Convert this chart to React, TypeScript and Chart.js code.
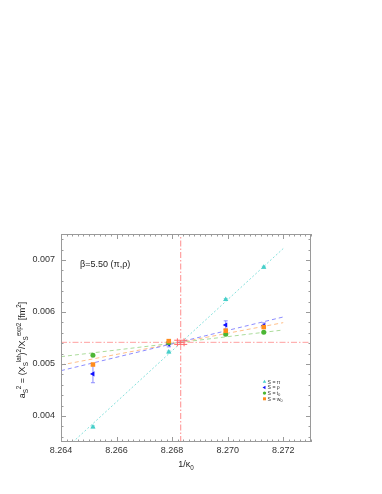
import React, { useEffect, useRef } from 'react';
import { Chart, registerables } from 'chart.js';

Chart.register(...registerables);

// ---- data ----
const kappaInv = [8.26515, 8.26788, 8.26993, 8.2713];
const sPi = [0.00379, 0.00523, 0.00624, 0.00686];
const sPiErr = [0.00002, 0.00002, 0.00002, 0.00002];
const sRho = [0.00481, 0.00538, 0.00575, 0.00574];
const sRhoErr = [0.00017, 0.00005, 0.00008, 0.00005];
const sT0 = [0.00517, 0.00541, 0.00557, 0.00561];
const sT0Err = [0.00002, 0.00002, 0.00002, 0.00002];
const sW0 = [0.00499, 0.00544, 0.00564, 0.00571];
const sW0Err = [0.00002, 0.00002, 0.00003, 0.00002];

const fitX = [8.264, 8.272];
const fitPi = [0.003289, 0.00722];
const fitRho = [0.004872, 0.005904];
const fitW0 = [0.004981, 0.005795];
const fitT0 = [0.005141, 0.005654];

const refX = [8.26831];
const refXErr = [0.00012];
const refY = [0.005417];
const refYErr = [0.00004];

const xRange = [8.264, 8.273];
const yRange = [0.0035, 0.0075];
const xTicks = [8.264, 8.266, 8.268, 8.27, 8.272];
const yTicks = [0.004, 0.005, 0.006, 0.007];

const legendLabels = [
  { main: 'S = π', sub: '' },
  { main: 'S = ρ', sub: '' },
  { main: 'S = t', sub: '0' },
  { main: 'S = w', sub: '0' },
];

const FONT = '"Liberation Sans", Arial, Helvetica, sans-serif';
const C_PI = '#46cfca';
const C_RHO = '#1010ff';
const C_T0 = '#4cb634';
const C_W0 = '#ff8c1c';

const pts = (xs: number[], ys: number[]) => xs.map((x, i) => ({ x, y: ys[i] }));

type Seg = { t: string; k: 'n' | 'b' | 'p' };

function drawRich(ctx: CanvasRenderingContext2D, segs: Seg[], size: number, align: 'left' | 'center') {
  const small = size * 0.7;
  const fontOf = (k: string) => `${k === 'n' ? size : small}px ${FONT}`;
  let total = 0;
  for (const s of segs) {
    ctx.font = fontOf(s.k);
    total += ctx.measureText(s.t).width;
  }
  let x = align === 'center' ? -total / 2 : 0;
  ctx.textBaseline = 'alphabetic';
  ctx.textAlign = 'left';
  for (const s of segs) {
    ctx.font = fontOf(s.k);
    const dy = s.k === 'b' ? size * 0.28 : s.k === 'p' ? -size * 0.45 : 0;
    ctx.fillText(s.t, x, dy);
    x += ctx.measureText(s.t).width;
  }
}

function marker(ctx: CanvasRenderingContext2D, kind: string, x: number, y: number, r: number, color: string) {
  ctx.save();
  ctx.fillStyle = color;
  ctx.beginPath();
  if (kind === 'tri') {
    ctx.moveTo(x, y - r);
    ctx.lineTo(x + r * 0.866, y + r * 0.5);
    ctx.lineTo(x - r * 0.866, y + r * 0.5);
  } else if (kind === 'left') {
    ctx.moveTo(x - r, y);
    ctx.lineTo(x + r * 0.5, y - r * 0.866);
    ctx.lineTo(x + r * 0.5, y + r * 0.866);
  } else if (kind === 'circ') {
    ctx.arc(x, y, r * 0.85, 0, Math.PI * 2);
  } else {
    ctx.rect(x - r * 0.75, y - r * 0.75, r * 1.5, r * 1.5);
  }
  ctx.closePath();
  ctx.fill();
  ctx.restore();
}

const decorPlugin = {
  id: 'decor',
  beforeDatasetsDraw(chart: any) {
    const { ctx } = chart;
    const ys = chart.scales.y;
    ctx.save();
    chart.data.datasets.forEach((ds: any, i: number) => {
      if (!ds.errors) return;
      const meta = chart.getDatasetMeta(i);
      ctx.strokeStyle = ds.errColor;
      ctx.lineWidth = 1;
      meta.data.forEach((el: any, j: number) => {
        const e = ds.errors[j];
        const v = ds.data[j].y;
        const y1 = ys.getPixelForValue(v - e);
        const y2 = ys.getPixelForValue(v + e);
        ctx.beginPath();
        ctx.moveTo(el.x, y1);
        ctx.lineTo(el.x, y2);
        ctx.moveTo(el.x - 2, y1);
        ctx.lineTo(el.x + 2, y1);
        ctx.moveTo(el.x - 2, y2);
        ctx.lineTo(el.x + 2, y2);
        ctx.stroke();
      });
    });
    ctx.restore();
  },
  afterDatasetsDraw(chart: any) {
    const { ctx } = chart;
    const xs = chart.scales.x;
    const ys = chart.scales.y;
    // target point with x and y errors
    ctx.save();
    ctx.strokeStyle = '#ff6a6a';
    ctx.lineWidth = 1;
    refX.forEach((vx, i) => {
      const cx = xs.getPixelForValue(vx);
      const cy = ys.getPixelForValue(refY[i]);
      const xl = xs.getPixelForValue(vx - refXErr[i]);
      const xr = xs.getPixelForValue(vx + refXErr[i]);
      const yt = ys.getPixelForValue(refY[i] + refYErr[i]);
      const yb = ys.getPixelForValue(refY[i] - refYErr[i]);
      ctx.beginPath();
      ctx.moveTo(xl, cy); ctx.lineTo(xr, cy);
      ctx.moveTo(cx, yt); ctx.lineTo(cx, yb);
      ctx.moveTo(xl, cy - 4); ctx.lineTo(xl, cy + 4);
      ctx.moveTo(xr, cy - 4); ctx.lineTo(xr, cy + 4);
      ctx.moveTo(cx - 6.5, yt); ctx.lineTo(cx + 6.5, yt);
      ctx.moveTo(cx - 6.5, yb); ctx.lineTo(cx + 6.5, yb);
      ctx.stroke();
    });
    ctx.restore();
  },
  afterDraw(chart: any) {
    const { ctx, chartArea: a } = chart;
    const xs = chart.scales.x;
    const ys = chart.scales.y;
    ctx.save();
    // frame
    ctx.strokeStyle = '#9a9a9a';
    ctx.lineWidth = 1;
    ctx.strokeRect(a.left + 0.5, a.top + 0.5, a.right - a.left - 1, a.bottom - a.top - 1);
    // ticks
    ctx.beginPath();
    for (let i = 0; i <= 45; i++) {
      const v = xRange[0] + i * 0.0002;
      const px = Math.round(xs.getPixelForValue(v)) + 0.5;
      const len = i % 10 === 0 ? 5 : 2.5;
      ctx.moveTo(px, a.bottom); ctx.lineTo(px, a.bottom - len);
      ctx.moveTo(px, a.top); ctx.lineTo(px, a.top + len);
    }
    for (let i = 0; i <= 20; i++) {
      const v = yRange[0] + 0.0001 + i * 0.0002;
      if (v > yRange[1]) break;
      const py = Math.round(ys.getPixelForValue(v)) + 0.5;
      const major = Math.abs(v * 1000 - Math.round(v * 1000)) < 1e-6;
      const len = major ? 5 : 2.5;
      ctx.moveTo(a.left, py); ctx.lineTo(a.left + len, py);
      ctx.moveTo(a.right, py); ctx.lineTo(a.right - len, py);
    }
    ctx.stroke();

    ctx.fillStyle = '#222';
    // annotation
    ctx.save();
    ctx.translate(80, 266.5);
    drawRich(ctx, [{ t: 'β=5.50 (π,ρ)', k: 'n' }], 9, 'left');
    ctx.restore();

    // x title
    ctx.save();
    ctx.translate(186, 467);
    drawRich(ctx, [{ t: '1/κ', k: 'n' }, { t: '0', k: 'b' }], 9, 'center');
    ctx.restore();

    // y title
    ctx.save();
    ctx.translate(25, 350);
    ctx.rotate(-Math.PI / 2);
    drawRich(
      ctx,
      [
        { t: 'a', k: 'n' }, { t: 'S', k: 'b' }, { t: '2', k: 'p' },
        { t: ' = (X', k: 'n' }, { t: 'S', k: 'b' }, { t: 'lat', k: 'p' },
        { t: ')', k: 'n' }, { t: '2', k: 'p' },
        { t: '/X', k: 'n' }, { t: 'S', k: 'b' }, { t: 'exp2', k: 'p' },
        { t: ' [fm', k: 'n' }, { t: '2', k: 'p' }, { t: ']', k: 'n' },
      ],
      9,
      'center'
    );
    ctx.restore();

    // legend
    const kinds = ['tri', 'left', 'circ', 'rect'];
    const cols = [C_PI, C_RHO, C_T0, C_W0];
    legendLabels.forEach((lab, i) => {
      const y = 381.7 + i * 5.7;
      marker(ctx, kinds[i], 264.5, y, 2, cols[i]);
      ctx.save();
      ctx.fillStyle = '#333';
      ctx.translate(267.5, y + 1.8);
      drawRich(ctx, [{ t: lab.main, k: 'n' }, ...(lab.sub ? [{ t: lab.sub, k: 'b' as const }] : [])], 5.2, 'left');
      ctx.restore();
    });
    ctx.restore();
  },
};

export default function App() {
  const ref = useRef<HTMLCanvasElement | null>(null);
  useEffect(() => {
    if (!ref.current) return;
    const lineDs = (data: any, color: string, dash: number[]) => ({
      type: 'line',
      data,
      borderColor: color,
      borderWidth: 1,
      borderDash: dash,
      pointRadius: 0,
      showLine: true,
      fill: false,
    });
    const chart = new Chart(ref.current, {
      type: 'scatter',
      data: {
        datasets: [
          { data: pts(kappaInv, sW0), pointStyle: 'rect', pointRadius: 3.2, backgroundColor: C_W0, borderWidth: 0, errors: sW0Err, errColor: '#ffb070' } as any,
          { data: pts(kappaInv, sT0), pointStyle: 'circle', pointRadius: 2.5, backgroundColor: C_T0, borderWidth: 0, errors: sT0Err, errColor: '#90d080' } as any,
          { data: pts(kappaInv, sRho), pointStyle: 'triangle', rotation: -90, pointRadius: 3, backgroundColor: C_RHO, borderWidth: 0, errors: sRhoErr, errColor: '#8c8cff' } as any,
          { data: pts(kappaInv, sPi), pointStyle: 'triangle', pointRadius: 3, backgroundColor: C_PI, borderWidth: 0, errors: sPiErr, errColor: '#8ee0dc' } as any,
          lineDs(pts(fitX, fitPi), '#86e0dc', [2, 2]),
          lineDs(pts(fitX, fitRho), '#8c8cff', [4, 3]),
          lineDs(pts(fitX, fitW0), '#ffbf88', [4, 3]),
          lineDs(pts(fitX, fitT0), '#acdc9c', [4, 3]),
          lineDs(pts(xRange, [refY[0], refY[0]]), '#ffa0a0', [6, 2, 1.5, 2]),
          lineDs(pts([refX[0], refX[0]], yRange), '#ff8c8c', [6, 2, 1.5, 2]),
        ] as any,
      },
      options: {
        animation: false,
        responsive: false,
        maintainAspectRatio: false,
        events: [],
        layout: { padding: { left: 0, top: 234, right: 71, bottom: 0 } },
        plugins: { legend: { display: false }, tooltip: { enabled: false } },
        scales: {
          x: {
            type: 'linear',
            min: xRange[0],
            max: xRange[1],
            grid: { display: false, drawTicks: false },
            border: { display: false },
            afterBuildTicks: (axis: any) => {
              axis.ticks = xTicks.map((v) => ({ value: v }));
            },
            afterFit: (axis: any) => {
              axis.height = 52;
            },
            ticks: {
              padding: 3,
              autoSkip: false,
              maxRotation: 0,
              color: '#333',
              font: { family: FONT, size: 9 },
              callback: (v: any) => Number(v).toFixed(3),
            },
          },
          y: {
            type: 'linear',
            min: yRange[0],
            max: yRange[1],
            grid: { display: false, drawTicks: false },
            border: { display: false },
            afterBuildTicks: (axis: any) => {
              axis.ticks = yTicks.map((v) => ({ value: v }));
            },
            afterFit: (axis: any) => {
              axis.width = 61;
            },
            ticks: {
              padding: 6,
              autoSkip: false,
              color: '#333',
              font: { family: FONT, size: 9 },
              callback: (v: any) => Number(v).toFixed(3),
            },
          },
        },
      } as any,
      plugins: [decorPlugin],
    });
    return () => chart.destroy();
  }, []);
  return (
    <div style={{ position: 'absolute', left: 0, top: 0, width: 382, height: 494, background: '#fff' }}>
      <canvas ref={ref} width={382} height={494} style={{ width: 382, height: 494, display: 'block' }} />
    </div>
  );
}
